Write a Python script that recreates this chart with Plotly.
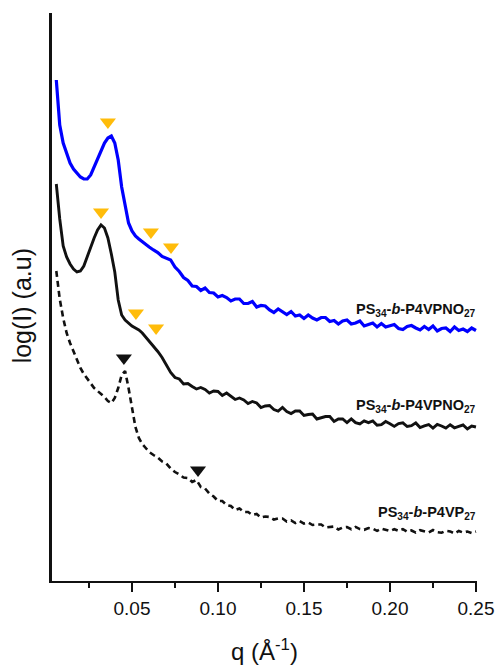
import plotly.graph_objects as go

# ---------------- data ----------------
q = [0.006, 0.008, 0.010, 0.012, 0.014, 0.016, 0.018, 0.020, 0.022, 0.024,
     0.026, 0.028, 0.030, 0.032, 0.034, 0.036, 0.038, 0.040, 0.042, 0.044,
     0.046, 0.048, 0.050, 0.052, 0.054, 0.056, 0.058, 0.060,
     0.0625, 0.065, 0.0675, 0.070, 0.0725, 0.075, 0.0775, 0.080, 0.0825, 0.085,
     0.0875, 0.090, 0.0925, 0.095, 0.0975, 0.100,
     0.1025, 0.105, 0.1075, 0.110, 0.1125, 0.115, 0.1175, 0.120, 0.1225, 0.125,
     0.1275, 0.130, 0.1325, 0.135, 0.1375, 0.140, 0.1425, 0.145, 0.1475, 0.150,
     0.1525, 0.155, 0.1575, 0.160, 0.1625, 0.165, 0.1675, 0.170, 0.1725, 0.175,
     0.1775, 0.180, 0.1825, 0.185, 0.1875, 0.190, 0.1925, 0.195, 0.1975, 0.200,
     0.2025, 0.205, 0.2075, 0.210, 0.2125, 0.215, 0.2175, 0.220, 0.2225, 0.225,
     0.2275, 0.230, 0.2325, 0.235, 0.2375, 0.240, 0.2425, 0.245, 0.2475, 0.250]

# PS34-b-P4VPNO27 (blue, top)
logI_blue = [501, 456, 438, 428, 418, 412, 408, 404, 402, 402,
             406, 414, 421, 429, 438, 443, 445, 438, 421, 394,
             374, 358, 350, 345, 342, 339, 336, 334,
             331, 328.5, 324.5, 323, 321, 314, 309.5, 303.5, 300.5, 295, 294.5, 290.5, 293, 288.5, 288, 284,
             285.5, 283.5, 280, 282, 282, 277.5, 277.5, 279.5, 274, 275.5, 275, 271, 268.5, 272, 269, 266.5, 269.5, 265, 266, 262.5,
             266, 263, 261, 263.5, 263.5, 259.5, 260.5, 257, 260, 261, 257, 258, 260, 255, 256.5, 258, 254, 257.5, 254, 255.5,
             256.5, 252.5, 251.5, 254.5, 255.5, 253, 251, 254.5, 251.5, 255, 250, 252.5, 253, 249.5, 254, 250.5, 252, 249.5, 253, 250.5]

# PS34-b-P4VPNO27 (black solid, middle)
logI_black = [397, 362, 335, 324, 317, 312, 309, 310, 315, 325,
              334, 343, 351, 356, 353, 343, 327, 309, 281, 266,
              261, 258, 255, 253, 251, 248, 244, 240,
              235, 229.5, 223.5, 216, 208.5, 203.5, 202, 197, 197.5, 194.5, 192, 193.5, 191.5, 188, 190, 189.5,
              185.5, 188, 184.5, 181.5, 183, 181, 177.5, 179.5, 178, 173.5, 175, 175.5, 171.5, 170, 173.5, 169.5, 167.5, 170, 170, 165.5,
              166.5, 167, 162, 163, 164.5, 164.5, 159.5, 162, 162, 158.5, 162.2, 158.4, 157, 160.2, 158.4, 160, 155.7, 156.4, 159.5, 157.3,
              154.6, 157.4, 158.2, 154.5, 155.3, 158.1, 153.4, 155.2, 156.5, 152.8, 156.6, 155, 152.9, 156.3, 153.2, 154.6, 156, 152, 155, 154]

# PS34-b-P4VP27 (black dashed, bottom)
logI_dash = [310, 282, 263, 248, 238, 229, 220, 213, 207, 202,
             197, 193, 190, 187, 184, 180, 178, 183, 193, 206,
             210, 193, 173, 154, 143, 137, 133, 129,
             126, 123.5, 119.5, 117.5, 112.5, 109, 106.5, 103.5, 103, 99, 101, 94, 92.5, 87.5, 84.5, 80,
             80, 76, 75, 71, 72.5, 69, 69, 66, 67, 63.5, 64.5, 64, 61.5, 62.5, 62.5, 59.5, 60.5, 58, 60, 57.5,
             58.5, 56, 56.5, 56.5, 53.5, 54, 54.5, 51.5, 53.5, 54, 51.8, 54.1, 51.9, 51.2, 53, 52.3, 50.1, 52.4, 51.2, 50,
             51.8, 50.1, 51.9, 49.2, 50.5, 48.4, 50.8, 49.7, 48.6, 51, 48.9, 48.3, 50.2, 49.6, 47.5, 50, 48.5, 49.5, 48, 49.5]

# peak markers
peak_q_orange = [0.0360, 0.0610, 0.0727, 0.0320, 0.0523, 0.0640]
peak_y_orange = [459, 349, 334, 369, 268, 253]
peak_q_black = [0.0453, 0.0884]
peak_y_black = [223, 111]

labels = ["PS<sub>34</sub>-<i>b</i>-P4VPNO<sub>27</sub>",
          "PS<sub>34</sub>-<i>b</i>-P4VPNO<sub>27</sub>",
          "PS<sub>34</sub>-<i>b</i>-P4VP<sub>27</sub>"]
label_y = [271, 175, 68]

for arr in (logI_blue, logI_black, logI_dash):
    assert len(arr) == len(q), (len(arr), len(q))

# ---------------- figure ----------------
FONT = "Liberation Sans, Arial, sans-serif"
fig = go.Figure()
fig.add_trace(go.Scatter(x=q, y=logI_dash, mode="lines",
                         line=dict(color="#111111", width=2.6, dash="6px,4px")))
fig.add_trace(go.Scatter(x=q, y=logI_black, mode="lines",
                         line=dict(color="#111111", width=2.9)))
fig.add_trace(go.Scatter(x=q, y=logI_blue, mode="lines",
                         line=dict(color="#0000FF", width=3.2)))
fig.add_trace(go.Scatter(x=peak_q_orange, y=peak_y_orange, mode="markers",
                         marker=dict(symbol="triangle-down", size=14, color="#FFBC0A",
                                     line=dict(width=0))))
fig.add_trace(go.Scatter(x=peak_q_black, y=peak_y_black, mode="markers",
                         marker=dict(symbol="triangle-down", size=14, color="#111111",
                                     line=dict(width=0))))

for t, yv in zip(labels, label_y):
    fig.add_annotation(x=1.003, xref="paper", y=yv, yref="y", text="<b>" + t + "</b>",
                       showarrow=False, xanchor="right", yanchor="middle",
                       font=dict(family=FONT, size=14.5, color="#111111"))

fig.add_annotation(x=-0.07, xref="paper", y=0.484, yref="paper", text="log(I) (a.u)",
                   textangle=-90, showarrow=False, xanchor="center", yanchor="middle",
                   font=dict(family=FONT, size=25, color="#111111"))
fig.add_annotation(x=0.499, xref="paper", y=-0.122, yref="paper", text="q (Å<sup>-1</sup>)",
                   showarrow=False, xanchor="center", yanchor="middle",
                   font=dict(family=FONT, size=24, color="#111111"))

fig.update_layout(
    width=500, height=667,
    margin=dict(l=52, r=23, t=13, b=86, autoexpand=False),
    paper_bgcolor="white", plot_bgcolor="white",
    showlegend=False,
    font=dict(family=FONT, color="#111111"),
)
fig.update_xaxes(range=[0.0035, 0.2506], showgrid=False, zeroline=False, automargin=False,
                 showline=True, linecolor="#111111", linewidth=2,
                 ticks="outside", ticklen=9, tickwidth=2, tickcolor="#111111",
                 tick0=0, dtick=0.05, tickformat=".2f",
                 tickfont=dict(family=FONT, size=19, color="#111111"),
                 minor=dict(ticks="outside", ticklen=5, tickwidth=2, tickcolor="#111111",
                            dtick=0.025, tick0=0))
fig.update_yaxes(range=[0, 568], showgrid=False, zeroline=False, automargin=False,
                 showline=True, linecolor="#111111", linewidth=2.5,
                 ticks="", showticklabels=False)

fig.write_html("out.html")
